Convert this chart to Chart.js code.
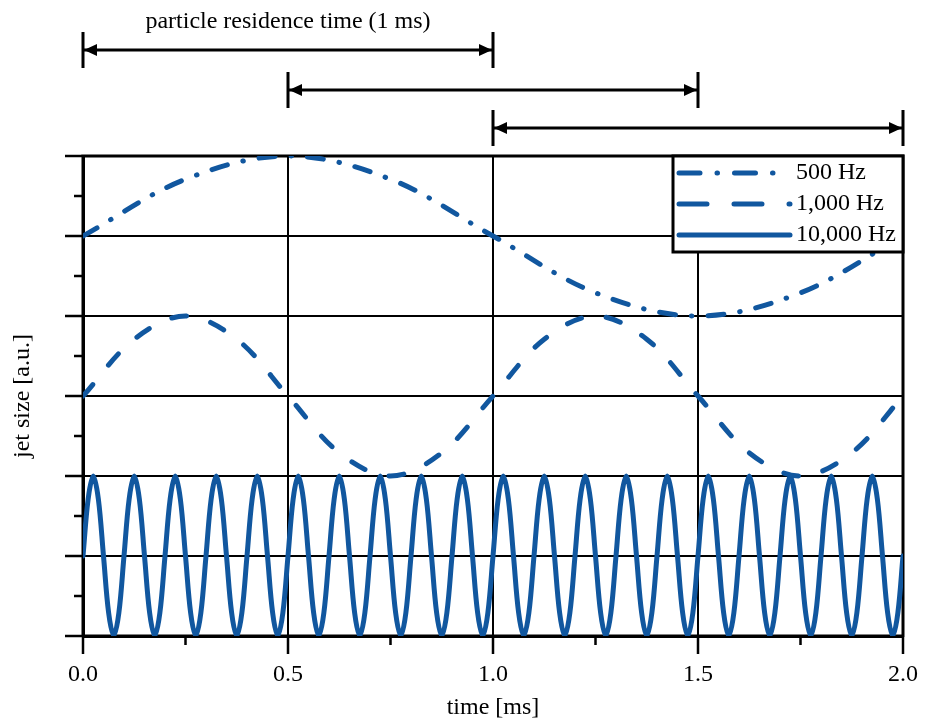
<!DOCTYPE html>
<html>
<head>
<meta charset="utf-8">
<script src="https://cdn.jsdelivr.net/npm/chart.js"></script>
<style>
  html, body { margin: 0; padding: 0; background: #fff; }
  #wrap { width: 929px; height: 722px; }
</style>
</head>
<body>
<div id="wrap"><canvas id="chart" width="929" height="722"></canvas></div>
<script>
// ===== data (time in ms, jet size in a.u., each signal offset on its own band)
// samples read every 1/8 of a period
const t500 = [0, 0.25, 0.5, 0.75, 1.0, 1.25, 1.5, 1.75, 2.0];
const jet500 = [2, 2.71, 3, 2.71, 2, 1.29, 1, 1.29, 2];

const t1000 = [
  0, 0.125, 0.25, 0.375, 0.5, 0.625, 0.75, 0.875,
  1.0, 1.125, 1.25, 1.375, 1.5, 1.625, 1.75, 1.875,
  2.0
];
const jet1000 = [
  0, 0.71, 1, 0.71, 0, -0.71, -1, -0.71,
  0, 0.71, 1, 0.71, 0, -0.71, -1, -0.71,
  0
];

const t10000 = [
  0, 0.0125, 0.025, 0.0375, 0.05, 0.0625, 0.075, 0.0875,
  0.1, 0.1125, 0.125, 0.1375, 0.15, 0.1625, 0.175, 0.1875,
  0.2, 0.2125, 0.225, 0.2375, 0.25, 0.2625, 0.275, 0.2875,
  0.3, 0.3125, 0.325, 0.3375, 0.35, 0.3625, 0.375, 0.3875,
  0.4, 0.4125, 0.425, 0.4375, 0.45, 0.4625, 0.475, 0.4875,
  0.5, 0.5125, 0.525, 0.5375, 0.55, 0.5625, 0.575, 0.5875,
  0.6, 0.6125, 0.625, 0.6375, 0.65, 0.6625, 0.675, 0.6875,
  0.7, 0.7125, 0.725, 0.7375, 0.75, 0.7625, 0.775, 0.7875,
  0.8, 0.8125, 0.825, 0.8375, 0.85, 0.8625, 0.875, 0.8875,
  0.9, 0.9125, 0.925, 0.9375, 0.95, 0.9625, 0.975, 0.9875,
  1.0, 1.0125, 1.025, 1.0375, 1.05, 1.0625, 1.075, 1.0875,
  1.1, 1.1125, 1.125, 1.1375, 1.15, 1.1625, 1.175, 1.1875,
  1.2, 1.2125, 1.225, 1.2375, 1.25, 1.2625, 1.275, 1.2875,
  1.3, 1.3125, 1.325, 1.3375, 1.35, 1.3625, 1.375, 1.3875,
  1.4, 1.4125, 1.425, 1.4375, 1.45, 1.4625, 1.475, 1.4875,
  1.5, 1.5125, 1.525, 1.5375, 1.55, 1.5625, 1.575, 1.5875,
  1.6, 1.6125, 1.625, 1.6375, 1.65, 1.6625, 1.675, 1.6875,
  1.7, 1.7125, 1.725, 1.7375, 1.75, 1.7625, 1.775, 1.7875,
  1.8, 1.8125, 1.825, 1.8375, 1.85, 1.8625, 1.875, 1.8875,
  1.9, 1.9125, 1.925, 1.9375, 1.95, 1.9625, 1.975, 1.9875,
  2.0
];
const jet10000 = [
  -2, -1.29, -1, -1.29, -2, -2.71, -3, -2.71,
  -2, -1.29, -1, -1.29, -2, -2.71, -3, -2.71,
  -2, -1.29, -1, -1.29, -2, -2.71, -3, -2.71,
  -2, -1.29, -1, -1.29, -2, -2.71, -3, -2.71,
  -2, -1.29, -1, -1.29, -2, -2.71, -3, -2.71,
  -2, -1.29, -1, -1.29, -2, -2.71, -3, -2.71,
  -2, -1.29, -1, -1.29, -2, -2.71, -3, -2.71,
  -2, -1.29, -1, -1.29, -2, -2.71, -3, -2.71,
  -2, -1.29, -1, -1.29, -2, -2.71, -3, -2.71,
  -2, -1.29, -1, -1.29, -2, -2.71, -3, -2.71,
  -2, -1.29, -1, -1.29, -2, -2.71, -3, -2.71,
  -2, -1.29, -1, -1.29, -2, -2.71, -3, -2.71,
  -2, -1.29, -1, -1.29, -2, -2.71, -3, -2.71,
  -2, -1.29, -1, -1.29, -2, -2.71, -3, -2.71,
  -2, -1.29, -1, -1.29, -2, -2.71, -3, -2.71,
  -2, -1.29, -1, -1.29, -2, -2.71, -3, -2.71,
  -2, -1.29, -1, -1.29, -2, -2.71, -3, -2.71,
  -2, -1.29, -1, -1.29, -2, -2.71, -3, -2.71,
  -2, -1.29, -1, -1.29, -2, -2.71, -3, -2.71,
  -2, -1.29, -1, -1.29, -2, -2.71, -3, -2.71,
  -2
];

const seriesLabels = ['500 Hz', '1,000 Hz', '10,000 Hz'];
const xTicks = [0, 0.5, 1.0, 1.5, 2.0];
const yTicks = [-3, -2, -1, 0, 1, 2, 3];

// residence windows drawn above the plot (ms)
const residenceWindows = [[0, 1.0], [0.5, 1.5], [1.0, 2.0]];
const residenceLabel = 'particle residence time (1 ms)';

// ===== style
const BLUE = '#11579f';
const FONT_FAMILY = '"Liberation Serif", "Times New Roman", serif';
const FONT = `24px ${FONT_FAMILY}`;
// dash patterns: in the plot / in the legend sample (legend ones are drawn longer)
const DASH_PLOT = [[16, 16, 0.5, 16], [15, 25], []];
const DASH_LEGEND = [[21, 17, 0.5, 17], [28, 27], []];

const pts = (xs, ys) => xs.map((v, i) => ({ x: v, y: ys[i] }));

// ===== plugins
const frame = {
  id: 'frame',
  beforeDatasetsDraw(chart) {
    const { ctx, chartArea: a } = chart;
    ctx.save();
    ctx.strokeStyle = '#000';
    ctx.lineWidth = 3;
    ctx.strokeRect(a.left, a.top, a.right - a.left, a.bottom - a.top);
    ctx.restore();
  }
};

const minorTicks = {
  id: 'minorTicks',
  afterDraw(chart) {
    const { ctx, chartArea: a, scales: { x, y } } = chart;
    ctx.save();
    ctx.strokeStyle = '#000';
    ctx.lineWidth = 2.5;
    ctx.beginPath();
    for (let i = 0; i < x.ticks.length - 1; i++) {
      const px = x.getPixelForValue((x.ticks[i].value + x.ticks[i + 1].value) / 2);
      ctx.moveTo(px, a.bottom);
      ctx.lineTo(px, a.bottom + 9);
    }
    for (let i = 0; i < y.ticks.length - 1; i++) {
      const py = y.getPixelForValue((y.ticks[i].value + y.ticks[i + 1].value) / 2);
      ctx.moveTo(a.left - 9, py);
      ctx.lineTo(a.left, py);
    }
    ctx.stroke();
    ctx.restore();
  }
};

const boxLegend = {
  id: 'boxLegend',
  afterDatasetsDraw(chart) {
    const { ctx, chartArea: a } = chart;
    const w = 230, h = 96;
    const left = a.right - w, top = a.top;
    ctx.save();
    ctx.fillStyle = '#fff';
    ctx.fillRect(left, top, w, h);
    ctx.lineWidth = 3;
    ctx.strokeStyle = '#000';
    ctx.strokeRect(left, top, w, h);
    ctx.font = FONT;
    ctx.textBaseline = 'middle';
    chart.data.datasets.forEach((ds, i) => {
      const yy = top + 17 + i * 31;
      ctx.setLineDash(DASH_LEGEND[i]);
      ctx.lineCap = 'round';
      ctx.lineWidth = ds.borderWidth;
      ctx.strokeStyle = ds.borderColor;
      ctx.beginPath();
      ctx.moveTo(left + 6, yy);
      ctx.lineTo(left + 117, yy);
      ctx.stroke();
      ctx.setLineDash([]);
      ctx.fillStyle = '#000';
      ctx.fillText(ds.label, left + 123, yy);
    });
    ctx.restore();
  }
};

const residenceArrows = {
  id: 'residenceArrows',
  afterDraw(chart) {
    const { ctx, scales: { x } } = chart;
    const rows = [50, 90, 128];
    ctx.save();
    ctx.strokeStyle = '#000';
    ctx.fillStyle = '#000';
    ctx.lineWidth = 3;
    residenceWindows.forEach(([t0, t1], i) => {
      const xa = x.getPixelForValue(t0), xb = x.getPixelForValue(t1), yy = rows[i];
      ctx.beginPath();
      ctx.moveTo(xa, yy); ctx.lineTo(xb, yy);
      ctx.moveTo(xa, yy - 18); ctx.lineTo(xa, yy + 18);
      ctx.moveTo(xb, yy - 18); ctx.lineTo(xb, yy + 18);
      ctx.stroke();
      ctx.beginPath();
      ctx.moveTo(xa + 1, yy); ctx.lineTo(xa + 14, yy - 6); ctx.lineTo(xa + 14, yy + 6); ctx.closePath();
      ctx.moveTo(xb - 1, yy); ctx.lineTo(xb - 14, yy - 6); ctx.lineTo(xb - 14, yy + 6); ctx.closePath();
      ctx.fill();
    });
    const [w0, w1] = residenceWindows[0];
    ctx.font = FONT;
    ctx.textAlign = 'center';
    ctx.textBaseline = 'alphabetic';
    ctx.fillText(residenceLabel, (x.getPixelForValue(w0) + x.getPixelForValue(w1)) / 2, 28);
    ctx.restore();
  }
};

// ===== chart
new Chart(document.getElementById('chart'), {
  type: 'line',
  data: {
    datasets: [
      { label: seriesLabels[0], data: pts(t500, jet500), borderDash: DASH_PLOT[0] },
      { label: seriesLabels[1], data: pts(t1000, jet1000), borderDash: DASH_PLOT[1] },
      { label: seriesLabels[2], data: pts(t10000, jet10000), borderDash: DASH_PLOT[2] }
    ].map(ds => ({
      ...ds,
      borderColor: BLUE,
      borderWidth: 5,
      borderCapStyle: 'round',
      borderJoinStyle: 'round',
      pointRadius: 0,
      tension: 0.35,
      fill: false
    }))
  },
  options: {
    responsive: false,
    animation: false,
    devicePixelRatio: 1,
    layout: { padding: { top: 156, right: 26, left: 0, bottom: 0 } },
    plugins: { legend: { display: false }, tooltip: { enabled: false } },
    scales: {
      x: {
        type: 'linear',
        min: 0, max: 2,
        afterBuildTicks: s => { s.ticks = xTicks.map(v => ({ value: v })); },
        afterFit: s => { s.height = 86; },
        ticks: {
          color: '#000',
          padding: 6,
          maxRotation: 0,
          font: { family: FONT_FAMILY, size: 24 },
          callback: v => Number(v).toFixed(1)
        },
        grid: { color: '#000', lineWidth: 2, tickLength: 18, tickWidth: 2.5, tickColor: '#000' },
        border: { color: '#000', width: 3 },
        title: {
          display: true, text: 'time [ms]', color: '#000',
          font: { family: FONT_FAMILY, size: 24 }, padding: { top: 0, bottom: 0 }
        }
      },
      y: {
        min: -3, max: 3,
        afterBuildTicks: s => { s.ticks = yTicks.map(v => ({ value: v })); },
        afterFit: s => { s.width = 83; },
        ticks: { display: false },
        grid: { color: '#000', lineWidth: 2, tickLength: 18, tickWidth: 2.5, tickColor: '#000' },
        border: { color: '#000', width: 3 },
        title: {
          display: true, text: 'jet size [a.u.]', color: '#000',
          font: { family: FONT_FAMILY, size: 24 }, padding: { top: 8, bottom: 0 }
        }
      }
    }
  },
  plugins: [frame, minorTicks, boxLegend, residenceArrows]
});
</script>
</body>
</html>
